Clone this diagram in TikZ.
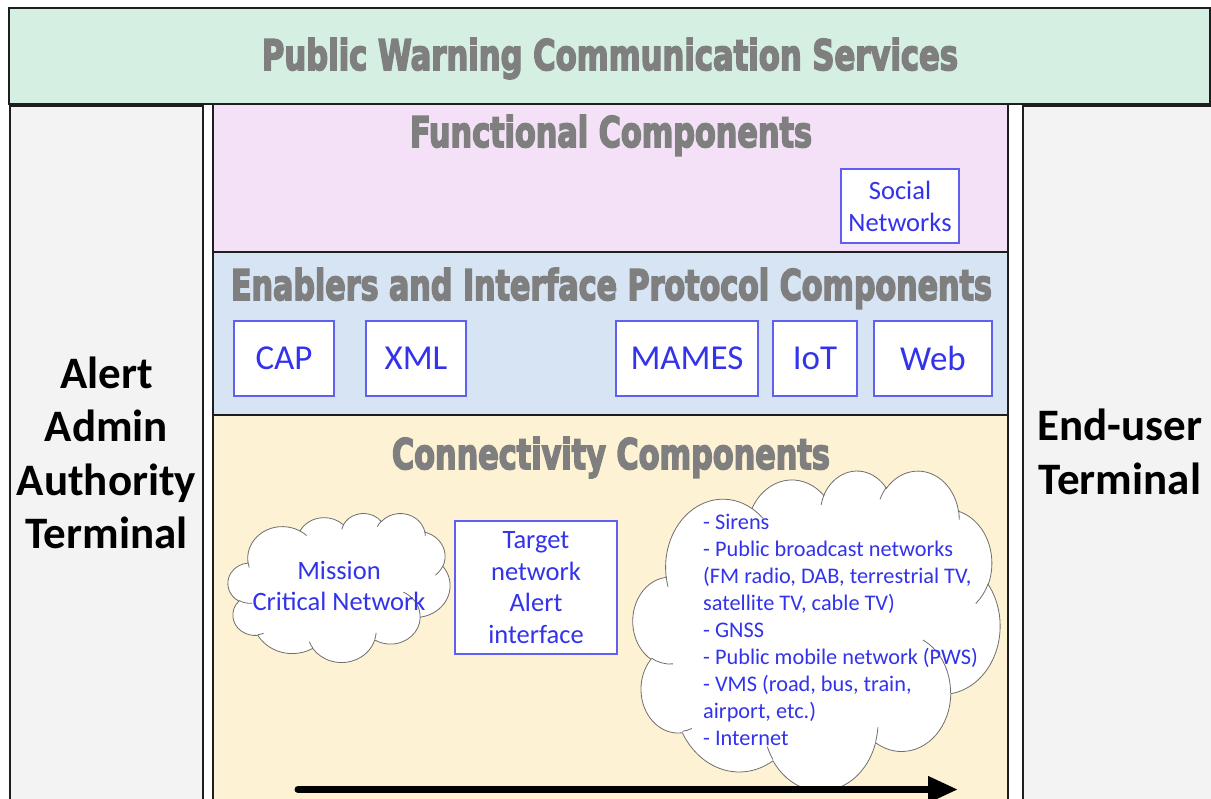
\documentclass[tikz,border=0pt]{standalone}
\usepackage{fontspec}
\usepackage{graphicx}
\usetikzlibrary{arrows.meta}
\newfontfamily\calfont{Carlito}
\IfFontExistsTF{DejaVu Sans Condensed Bold}
  {\newfontfamily\headfont{DejaVu Sans Condensed Bold}[FakeBold=4]}
  {\newfontfamily\headfont{DejaVu Sans Bold}[FakeBold=4]}
\newcommand\heading[3]{\resizebox{#1}{#2}{\headfont #3}}

\definecolor{topfill}{RGB}{213,240,227}
\definecolor{sidefill}{RGB}{243,243,243}
\definecolor{funcfill}{RGB}{245,225,247}
\definecolor{enabfill}{RGB}{214,228,243}
\definecolor{connfill}{RGB}{253,242,211}
\definecolor{headgray}{RGB}{127,127,127}
\definecolor{itemblue}{RGB}{51,51,235}
\definecolor{boxblue}{RGB}{95,95,240}
\definecolor{edge}{RGB}{30,30,30}
\definecolor{cloudline}{RGB}{110,110,110}

\begin{document}
\begin{tikzpicture}[x=1pt,y=-1pt,
  % visual (DrawingML) angle -> parametric ellipse angle
  declare function={pa(\ang,\rx,\ry)=\ang+atan2((\rx-\ry)*sin(\ang)*cos(\ang),\ry*cos(\ang)^2+\rx*sin(\ang)^2);},
  ooarc/.style n args={4}{insert path={arc[x radius=#1,y radius=#2,start angle={pa(#3,#1,#2)},end angle={pa(#3+#4,#1,#2)}]}},
  panel/.style={draw=edge,line width=2.2pt},
  headtext/.style={text=headgray,inner sep=0pt,anchor=base},
  termtext/.style={font=\calfont\bfseries\fontsize{45}{53.5}\selectfont,align=center,inner sep=0pt,text=black},
  itembox/.style={draw=boxblue,line width=1.3pt,fill=white,text=itemblue,inner sep=0pt,align=center},
  bigitem/.style={font=\calfont\fontsize{35}{42}\selectfont},
  smallitem/.style={font=\calfont\fontsize{26.5}{31.8}\selectfont},
  listitem/.style={font=\calfont\fontsize{22.3}{26.9}\selectfont,text=itemblue,inner sep=0pt,align=left},
  cloudedge/.style={draw=cloudline,line width=0.8pt,fill=white},
  cloudmark/.style={draw=cloudline,line width=0.8pt},
  flow/.style={line width=7pt,line cap=round,-{Triangle[length=30pt,width=25pt]}},
]
\useasboundingbox (0,0) rectangle (1211,799);
\clip (0,0) rectangle (1211,799);

% cloud outline on a 432 x 432 grid
\newcommand\cloudshape[1]{%
  \path[cloudedge] (39,143.7)
    [ooarc={67.53}{91.90}{-190.48748}{123.78053}]
    [ooarc={53.33}{72.67}{-144.10238}{89.94523}]
    [ooarc={43.65}{59.45}{-145.80792}{99.72302}]
    [ooarc={48.57}{65.95}{-130.98607}{117.24173}]
    [ooarc={53.33}{72.73}{-78.70888}{109.02692}]
    [ooarc={67.75}{92.20}{-46.26725}{130.269}]
    [ooarc={57.85}{78.67}{0.62502}{114.03333}]
    [ooarc={67.52}{92.15}{22.4516}{115.17255}]
    [ooarc={77.20}{105.43}{66.24263}{75.71102}]
    [ooarc={43.60}{59.18}{-274.94208}{146.73557}]
    [ooarc={43.45}{59.45}{-246.8285}{152.51885}] -- cycle;
  \path[cloudmark]
    (46.93,261.77) [ooarc={43.45}{59.45}{86.742}{26.4295}]
    (69.28,348.99) [ooarc={43.60}{59.18}{73.61047}{11.44747}]
    (164.78,390.90) [ooarc={67.52}{92.15}{137.62415}{14.0811}]
    (288.27,347.51) [ooarc={67.52}{92.15}{6.45327}{15.99835}]
    (341.29,229.54) [ooarc={57.85}{78.67}{-70.29235}{70.91737}]
    (417.98,153.54) [ooarc={53.33}{72.73}{30.31803}{27.7515}]
    (383.24,54.26) [ooarc={48.57}{65.95}{-13.74433}{14.8589}]
    (290.78,39.52) [ooarc={48.57}{65.95}{-149.18145}{18.19537}]
    (221.41,47.20) [ooarc={43.65}{59.45}{-163.49427}{17.68635}]
    (140.00,51.92) [ooarc={67.53}{91.90}{-66.70695}{12.31935}]
    (41.27,157.89) [ooarc={67.53}{91.90}{157.65435}{11.8553}];
}

% panels
\path[panel,fill=topfill] (9,8) rectangle (1210,104);
\path[panel,fill=sidefill] (10,106) rectangle (203,830);
\path[panel,fill=sidefill] (1023,106) rectangle (1240,830);
\path[panel,fill=funcfill] (213,104) rectangle (1008,252);
\path[panel,fill=enabfill] (213,252) rectangle (1008,415);
\path[panel,fill=connfill] (213,415) rectangle (1008,830);

% layer headings
\node[headtext] (title) at (610,70) {\heading{696pt}{32pt}{Public Warning Communication Services}};
\node[headtext] (functional) at (611,147) {\heading{402pt}{32pt}{Functional Components}};
\node[headtext] (enablers) at (611.5,300) {\heading{761pt}{32pt}{Enablers and Interface Protocol Components}};
\node[headtext] (connectivity) at (611,469) {\heading{438pt}{32pt}{Connectivity Components}};

% terminals
\node[termtext] (admin) at (106.5,453) {Alert\\Admin\\Authority\\Terminal};
\node[termtext] (enduser) at (1120,452) {End-user\\Terminal};

% functional components
\node[itembox,smallitem,minimum width=118pt,minimum height=74pt] (social) at (900,206) {Social\\Networks};

% enablers
\node[itembox,bigitem,minimum width=100pt,minimum height=75pt] (cap) at (284,358.5) {CAP};
\node[itembox,bigitem,minimum width=100pt,minimum height=75pt] (xml) at (416,358.5) {XML};
\node[itembox,bigitem,minimum width=142pt,minimum height=75pt] (mames) at (687,358.5) {MAMES};
\node[itembox,bigitem,minimum width=84pt,minimum height=75pt] (iot) at (815,358.5) {IoT};
\node[itembox,bigitem,minimum width=118pt,minimum height=75pt] (web) at (933,358.5) {Web};

% connectivity
\begin{scope}[shift={(228,513)},x=0.5139pt,y=-0.3449pt]
  \cloudshape{}
\end{scope}
\begin{scope}[shift={(633,470)},x=0.8495pt,y=-0.7407pt]
  \cloudshape{}
\end{scope}
\node[smallitem,text=itemblue,align=center,inner sep=0pt] (mcn) at (339,586) {Mission\\Critical Network};
\node[itembox,smallitem,minimum width=162pt,minimum height=133pt] (target) at (536,587.5) {Target\\network\\Alert\\interface};
\node[listitem,anchor=west] (bearers) at (703,630) {- Sirens\\- Public broadcast networks\\(FM radio, DAB, terrestrial TV,\\satellite TV, cable TV)\\- GNSS\\- Public mobile network (PWS)\\- VMS (road, bus, train,\\airport, etc.)\\- Internet};

% delivery direction
\coordinate (flowstart) at (298,789.5);
\coordinate (flowend) at (958,789.5);
\draw[flow] (flowstart) -- (flowend);
\end{tikzpicture}
\end{document}
